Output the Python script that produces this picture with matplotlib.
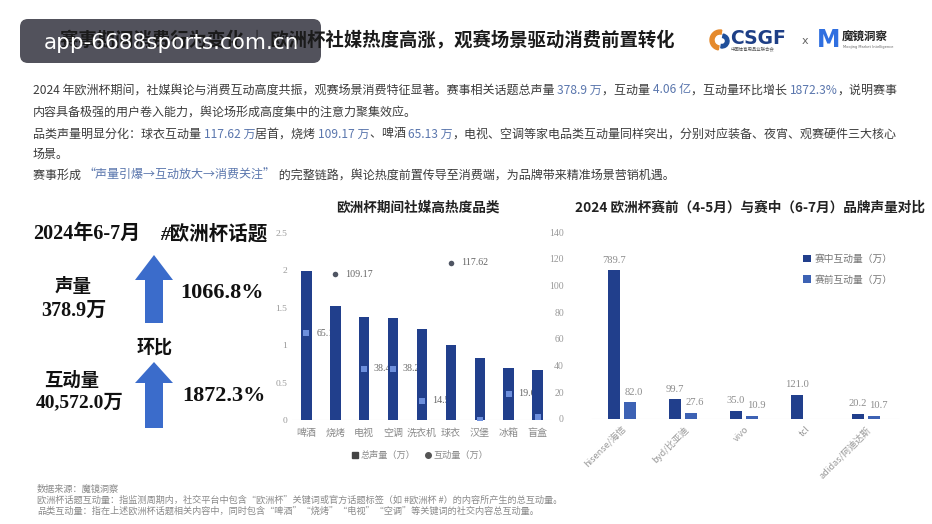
import matplotlib
matplotlib.use("Agg")
import matplotlib.pyplot as plt
import matplotlib.patches as mpatches
import matplotlib.lines as mlines
import numpy as np

CJK = ["Noto Sans CJK SC", "DejaVu Sans"]
SERIF = ["Liberation Serif", "Noto Sans CJK SC"]
plt.rcParams["font.family"] = CJK

# ── data ────────────────────────────────────────────────────────────────────
TITLE = "赛事期间消费行为变化 ｜ 欧洲杯社媒热度高涨，观赛场景驱动消费前置转化"
WATERMARK = "app-6688sports.com.cn"

CATS = ["啤酒", "烧烤", "电视", "空调", "洗衣机", "球衣", "汉堡", "冰箱", "盲盒"]
VOLUME = [1.99, 1.53, 1.38, 1.37, 1.21, 1.00, 0.83, 0.70, 0.67]          # 总声量（万）
INTERACT = [65.13, 109.17, 38.46, 38.21, 14.52, 117.62, 0.3, 19.63, 2.4]  # 互动量（万）
INTERACT_LABELS = ["65.13", "109.17", "38.46", "38.21", "14.52", "117.62", "", "19.63", ""]

BRANDS = ["hisense/海信", "byd/比亚迪", "vivo", "tcl", "adidas/阿迪达斯"]
DURING = [111.5, 14.8, 6.0, 18.0, 3.8]       # 赛中互动量（万）
BEFORE = [12.5, 4.8, 2.5, np.nan, 2.3]       # 赛前互动量（万）
DURING_LABELS = ["789.7", "99.7", "35.0", "121.0", "20.2"]
BEFORE_LABELS = ["82.0", "27.6", "10.9", "", "10.7"]

BODY = [
    [("2024 年欧洲杯期间，社媒舆论与消费互动高度共振，观赛场景消费特征显著。赛事相关话题总声量 ", 0),
     ("378.9 万", 1), ("，互动量 ", 0), ("4.06 亿", 1), ("，互动量环比增长 ", 0),
     ("1872.3%", 1), ("，说明赛事", 0)],
    [("内容具备极强的用户卷入能力，舆论场形成高度集中的注意力聚集效应。", 0)],
    [("品类声量明显分化：球衣互动量 ", 0), ("117.62 万", 1), ("居首，烧烤 ", 0),
     ("109.17 万", 1), ("、啤酒 ", 0), ("65.13 万", 1),
     ("，电视、空调等家电品类互动量同样突出，分别对应装备、夜宵、观赛硬件三大核心", 0)],
    [("场景。", 0)],
    [("赛事形成 ", 0), ("“声量引爆→互动放大→消费关注”", 1),
     (" 的完整链路，舆论热度前置传导至消费端，为品牌带来精准场景营销机遇。", 0)],
]
FOOTNOTES = [
    "数据来源：魔镜洞察",
    "欧洲杯话题互动量：指监测周期内，社交平台中包含“欧洲杯”关键词或官方话题标签（如 #欧洲杯 #）的内容所产生的总互动量。",
    "品类互动量：指在上述欧洲杯话题相关内容中，同时包含“啤酒”“烧烤”“电视”“空调”等关键词的社交内容总互动量。",
]

NAVY = "#213f8c"
MID_BLUE = "#3d62b4"
ARROW_BLUE = "#3b6ccb"
GREY_TXT = "#8c8c8c"
BODY_COLORS = ["#3c3c3c", "#5a76ad"]

fig = plt.figure(figsize=(9.32, 5.24), dpi=100)
fig.patch.set_facecolor("white")

# background canvas in pixel coordinates
bg = fig.add_axes([0, 0, 1, 1], zorder=0)
bg.set_xlim(0, 932)
bg.set_ylim(524, 0)
bg.axis("off")

# ── header ──────────────────────────────────────────────────────────────────
bg.text(60, 41, TITLE, fontsize=13.2, fontweight="bold", color="#1a1a1a", va="center", ha="left")

# logos (approximate)
bg.add_patch(mpatches.Wedge((720, 40), 10, 100, 280, width=4, color="#e58a2c"))
bg.add_patch(mpatches.Wedge((722, 41), 7, -80, 100, width=3.5, color="#1f4f9a"))
bg.text(730, 38, "CSGF", fontsize=13.5, fontweight="bold", color="#1e3f86",
        family="DejaVu Sans", va="center", ha="left")
bg.text(731, 49, "中国体育用品业联合会", fontsize=3.2, color="#555", va="center", ha="left")
bg.text(805, 41, "x", fontsize=8, color="#666", va="center", ha="center", family="DejaVu Sans")
bg.text(817, 40, "M", fontsize=17, fontweight="bold", color="#2f6fe0",
        family="DejaVu Sans", va="center", ha="left")
bg.text(842, 37, "魔镜洞察", fontsize=8.3, fontweight="bold", color="#222", va="center", ha="left")
bg.text(843, 47, "Moojing Market Intelligence", fontsize=2.6, color="#666", va="center",
        ha="left", family="DejaVu Sans")

# watermark box over the title
bg.add_patch(mpatches.FancyBboxPatch((20, 19), 301, 44, boxstyle="round,pad=0,rounding_size=8",
                                     facecolor="#45454f", edgecolor="none", alpha=0.93))
bg.text(171, 43, WATERMARK, fontsize=15.5, color="white", va="center", ha="center",
        family="DejaVu Sans")

# ── body paragraph ──────────────────────────────────────────────────────────
line_y = [90, 112, 134, 154, 175]
for y, parts in zip(line_y, BODY):
    t = bg.text(33, y, parts[0][0], fontsize=8.65, color=BODY_COLORS[parts[0][1]],
                va="center", ha="left")
    for s, c in parts[1:]:
        t = bg.annotate(s, xy=(1, 0), xycoords=t, va="bottom", ha="left",
                        fontsize=8.65, color=BODY_COLORS[c])

# ── left KPI panel ──────────────────────────────────────────────────────────
kpi = dict(fontweight="bold", family=SERIF, va="center", color="#111")
bg.text(33, 234, "2024年6-7月", fontsize=14.5, ha="left", **kpi)
bg.text(160, 234, "#欧洲杯话题", fontsize=14, style="italic", ha="left", **kpi)
bg.add_patch(mpatches.FancyArrow(154, 323, 0, -68, width=18, head_width=38, head_length=25,
                                 length_includes_head=True, color=ARROW_BLUE, lw=0))
bg.add_patch(mpatches.FancyArrow(154, 428, 0, -66, width=18, head_width=38, head_length=21,
                                 length_includes_head=True, color=ARROW_BLUE, lw=0))
bg.text(73, 287, "声量", fontsize=13.3, ha="center", **kpi)
bg.text(74, 311, "378.9万", fontsize=14.5, ha="center", **kpi)
bg.text(180, 293, "1066.8%", fontsize=16, ha="left", **kpi)
bg.text(155, 348, "环比", fontsize=13, ha="center", **kpi)
bg.text(72, 381, "互动量", fontsize=13.2, ha="center", **kpi)
bg.text(80, 402, "40,572.0万", fontsize=14, ha="center", **kpi)
bg.text(182, 396, "1872.3%", fontsize=16, ha="left", **kpi)

# ── chart titles ────────────────────────────────────────────────────────────
bg.text(418, 208, "欧洲杯期间社媒高热度品类", fontsize=9.8, fontweight="bold",
        ha="center", va="center", color="#222")
bg.text(750, 208, "2024 欧洲杯赛前（4-5月）与赛中（6-7月）品牌声量对比", fontsize=9.8,
        fontweight="bold", ha="center", va="center", color="#222")

# ── middle chart: categories ────────────────────────────────────────────────
ax = fig.add_axes([292 / 932, 1 - 420 / 524, 260 / 932, 187 / 524], zorder=1)
ax.patch.set_alpha(0)
x = np.arange(len(CATS))
ax.bar(x, VOLUME, width=0.36, color=NAVY, zorder=2)
ax.axhline(0, color="#dcdcdc", lw=0.8, zorder=1)
ax.set_xlim(-0.5, len(CATS) - 0.5)
ax.set_ylim(0, 2.5)
ax.set_yticks([0, 0.5, 1, 1.5, 2, 2.5])
ax.set_yticklabels(["0", "0.5", "1", "1.5", "2", "2.5"])
ax.set_xticks(x)
ax.set_xticklabels(CATS)
ax.tick_params(length=0, labelsize=6.8, labelcolor="#999999")
ax.tick_params(axis="x", pad=6, labelsize=7.2, labelcolor="#8a8a8a")
for lbl in ax.get_yticklabels():
    lbl.set_family("Liberation Serif")
for s in ax.spines.values():
    s.set_visible(False)

ax2 = ax.twinx()
ax2.set_ylim(0, 140)
ax2.set_yticks([])
for s in ax2.spines.values():
    s.set_visible(False)
vol = np.array(VOLUME)
inter = np.array(INTERACT)
inside = inter / 140 < vol / 2.5
ax2.scatter(x[inside], inter[inside], marker="s", s=14, color="#6d8fdc", zorder=3, lw=0)
ax2.scatter(x[~inside], inter[~inside], marker="o", s=16, color="#4f5563", zorder=3, lw=0)
# labels sit behind the bars (as in the original, where the next bar hides them)
for xi, v, lab in zip(x, INTERACT, INTERACT_LABELS):
    if lab:
        ax.annotate(lab, xy=(xi, v), xycoords=ax2.transData, xytext=(7, 0),
                    textcoords="offset points", va="center", ha="left",
                    fontsize=7.2, color="#666666", family="Liberation Serif", zorder=1)

h1 = mlines.Line2D([], [], marker="s", color="#444444", lw=0, markersize=4, label="总声量（万）")
h2 = mlines.Line2D([], [], marker="o", color="#555555", lw=0, markersize=4, label="互动量（万）")
leg = ax.legend(handles=[h1, h2], loc="center", bbox_to_anchor=(0.49, -0.19), ncol=2,
                frameon=False, fontsize=6.6, handletextpad=0.2, columnspacing=1.0,
                handlelength=0.8)
for t in leg.get_texts():
    t.set_color("#8a8a8a")

# ── right chart: brands ─────────────────────────────────────────────────────
axr = fig.add_axes([575 / 932, 1 - 419 / 524, 330 / 932, 187 / 524], zorder=1)
axr.patch.set_alpha(0)
xb = np.arange(len(BRANDS))
off, bw = 0.13, 0.2
axr.bar(xb - off, DURING, width=bw, color=NAVY, label="赛中互动量（万）", zorder=2)
axr.bar(xb + off, BEFORE, width=bw, color=MID_BLUE, label="赛前互动量（万）", zorder=2)
for xi, v, lab in zip(xb, DURING, DURING_LABELS):
    axr.annotate(lab, xy=(xi - off, v), xytext=(0, 4), textcoords="offset points",
                 ha="center", va="bottom", fontsize=7.6, color=GREY_TXT, family="Liberation Serif")
for xi, v, lab in zip(xb, BEFORE, BEFORE_LABELS):
    if lab:
        axr.annotate(lab, xy=(xi + off, v), xytext=(3, 4), textcoords="offset points",
                     ha="center", va="bottom", fontsize=7.6, color=GREY_TXT, family="Liberation Serif")
axr.axhline(0, xmin=0.05, xmax=0.98, color="#dcdcdc", lw=0.8, zorder=1)
axr.set_xlim(-0.77, 4.64)
axr.set_ylim(0, 140)
axr.set_yticks(range(0, 141, 20))
axr.set_xticks(xb)
axr.set_xticklabels(BRANDS, rotation=45, ha="right", rotation_mode="anchor")
axr.tick_params(length=0, labelsize=7, labelcolor="#999999")
axr.tick_params(axis="y", pad=8)
axr.tick_params(axis="x", pad=4, labelsize=6.6)
for s in axr.spines.values():
    s.set_visible(False)
for lbl in axr.get_yticklabels():
    lbl.set_family("Liberation Serif")
legr = axr.legend(loc="upper left", bbox_to_anchor=(0.665, 0.93), frameon=False,
                  fontsize=7, labelspacing=1.1, handlelength=0.8, handleheight=0.8,
                  handletextpad=0.4)
for t in legr.get_texts():
    t.set_color("#777777")

# ── footnotes ───────────────────────────────────────────────────────────────
for y, s in zip([489, 500, 511], FOOTNOTES):
    bg.text(37, y, s, fontsize=6.6, color="#8a8a8a", va="center", ha="left")

fig.savefig("out.png", dpi=100)
